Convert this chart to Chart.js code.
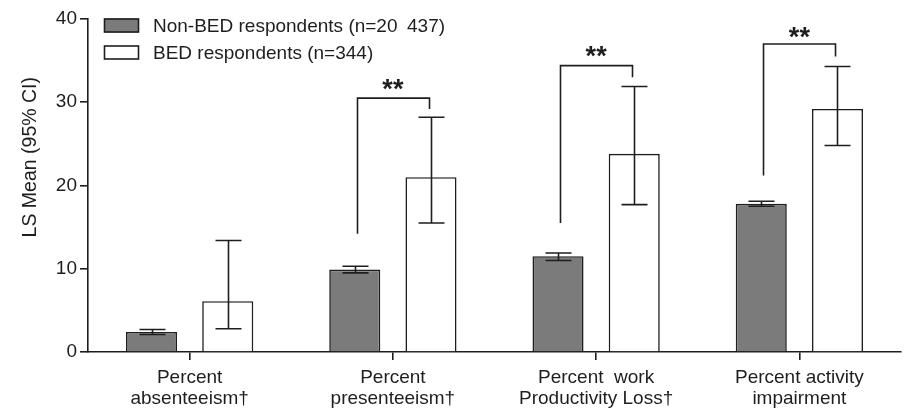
<!DOCTYPE html>
<html>
<head>
<meta charset="utf-8">
<script src="https://cdn.jsdelivr.net/npm/chart.js@4/dist/chart.umd.min.js"></script>
<style>
  html, body { margin: 0; padding: 0; background: #ffffff; }
  #wrap { width: 904px; height: 408px; }
</style>
</head>
<body>
<div id="wrap"><canvas id="c" width="904" height="408"></canvas></div>
<script>
// Categories (two-line axis labels)
const categories = [
  ['Percent', 'absenteeism\u2020'],
  ['Percent', 'presenteeism\u2020'],
  ['Percent  work', 'Productivity Loss\u2020'],
  ['Percent activity', 'impairment']
];

const seriesNames = ['Non-BED respondents (n=20\u2002437)', 'BED respondents (n=344)'];

// LS means with 95% confidence limits
const nonBedMean = [2.4, 9.9, 11.5, 17.8];
const nonBedLow  = [2.1, 9.5, 11.0, 17.5];
const nonBedHigh = [2.7, 10.3, 11.9, 18.1];

const bedMean = [6.1, 21.0, 23.8, 29.2];
const bedLow  = [2.8, 15.5, 17.7, 24.8];
const bedHigh = [13.4, 28.2, 31.9, 34.3];

// Significance brackets (null = no bracket)
const bracketTop      = [null, 30.5, 34.4, 37.0];
const bracketLeftEnd  = [null, 14.2, 15.5, 21.2];
const bracketRightEnd = [null, 29.2, 33.0, 35.5];
const starLevel       = [null, 32.3, 36.2, 38.6];
const starText        = [null, '**', '**', '**'];

const yTicks = [0, 10, 20, 30, 40];
const yTitle = 'LS Mean (95% CI)';

const FONT = "'Liberation Sans', Arial, Helvetica, sans-serif";
const INK = '#1e1e1e';
const GREY = '#7b7b7b';

const lows = [nonBedLow, bedLow];
const highs = [nonBedHigh, bedHigh];

const overlay = {
  id: 'overlay',
  afterDatasetsDraw(chart) {
    const ctx = chart.ctx;
    const xs = chart.scales.x, ys = chart.scales.y;
    const area = chart.chartArea;
    ctx.save();
    ctx.strokeStyle = INK;
    ctx.lineWidth = 1.6;
    ctx.lineCap = 'butt';

    // error bars
    chart.data.datasets.forEach((ds, d) => {
      const meta = chart.getDatasetMeta(d);
      meta.data.forEach((el, i) => {
        const x = Math.round(el.x) + 0.5;
        const yl = ys.getPixelForValue(lows[d][i]);
        const yh = ys.getPixelForValue(highs[d][i]);
        const cap = 13;
        ctx.beginPath();
        ctx.moveTo(x, yl); ctx.lineTo(x, yh);
        ctx.moveTo(x - cap, yh); ctx.lineTo(x + cap, yh);
        ctx.moveTo(x - cap, yl); ctx.lineTo(x + cap, yl);
        ctx.stroke();
      });
    });

    // significance brackets and stars
    const m0 = chart.getDatasetMeta(0), m1 = chart.getDatasetMeta(1);
    categories.forEach((c, i) => {
      if (bracketTop[i] == null) return;
      const xl = Math.round(m0.data[i].x + 2) + 0.5;
      const xr = Math.round(m1.data[i].x - 2) + 0.5;
      const yt = ys.getPixelForValue(bracketTop[i]);
      ctx.beginPath();
      ctx.moveTo(xl, ys.getPixelForValue(bracketLeftEnd[i]));
      ctx.lineTo(xl, yt);
      ctx.lineTo(xr, yt);
      ctx.lineTo(xr, ys.getPixelForValue(bracketRightEnd[i]));
      ctx.stroke();
      const fs = 27;
      ctx.font = 'bold ' + fs + 'px ' + FONT;
      ctx.fillStyle = INK;
      ctx.textAlign = 'center';
      ctx.textBaseline = 'alphabetic';
      ctx.fillText(starText[i], xs.getPixelForValue(i), ys.getPixelForValue(starLevel[i]) + 0.55 * fs);
    });

    // legend
    const lx = area.left + 16;
    const rows = [area.top - 0.5, area.top + 26.5];
    chart.data.datasets.forEach((ds, d) => {
      ctx.fillStyle = ds.backgroundColor;
      ctx.fillRect(lx, rows[d], 35, 14);
      ctx.lineWidth = 1.6;
      ctx.strokeStyle = INK;
      ctx.strokeRect(lx + 0.5, rows[d] + 0.5, 34, 13);
      ctx.fillStyle = INK;
      ctx.font = '19px ' + FONT;
      ctx.textAlign = 'left';
      ctx.textBaseline = 'middle';
      ctx.fillText(ds.label, lx + 49, rows[d] + 8);
    });

    // y axis title
    ctx.save();
    ctx.translate(31, area.top + (area.bottom - area.top) * 0.415);
    ctx.rotate(-Math.PI / 2);
    ctx.font = '19.5px ' + FONT;
    ctx.fillStyle = INK;
    ctx.textAlign = 'center';
    ctx.textBaseline = 'middle';
    ctx.fillText(yTitle, 0, 0);
    ctx.restore();

    ctx.restore();
  }
};

new Chart(document.getElementById('c'), {
  type: 'bar',
  data: {
    labels: categories,
    datasets: [
      { label: seriesNames[0], data: nonBedMean, backgroundColor: GREY, borderColor: INK, borderWidth: 1.6 },
      { label: seriesNames[1], data: bedMean, backgroundColor: '#ffffff', borderColor: INK, borderWidth: 1.6 }
    ]
  },
  plugins: [overlay],
  options: {
    responsive: false,
    devicePixelRatio: 1,
    animation: false,
    categoryPercentage: 0.75,
    barPercentage: 0.67,
    layout: { padding: { top: 19, right: 3, left: 0, bottom: 0 } },
    plugins: { legend: { display: false }, tooltip: { enabled: false } },
    scales: {
      x: {
        grid: { offset: false, drawOnChartArea: false, drawTicks: true, tickLength: 8, color: INK, lineWidth: 1.6 },
        border: { display: true, color: INK, width: 1.6 },
        ticks: { color: INK, font: { family: FONT, size: 19, lineHeight: 1.07 }, padding: 8, maxRotation: 0, autoSkip: false },
        afterFit(s) { s.height = 56; }
      },
      y: {
        min: 0, max: 40,
        afterBuildTicks(s) { s.ticks = yTicks.map(v => ({ value: v })); },
        grid: { drawOnChartArea: false, drawTicks: true, tickLength: 8, color: INK, lineWidth: 1.6 },
        border: { display: true, color: INK, width: 1.6 },
        ticks: { color: INK, font: { family: FONT, size: 19 }, padding: 3 },
        afterFit(s) { s.width = 88; }
      }
    }
  }
});
</script>
</body>
</html>
